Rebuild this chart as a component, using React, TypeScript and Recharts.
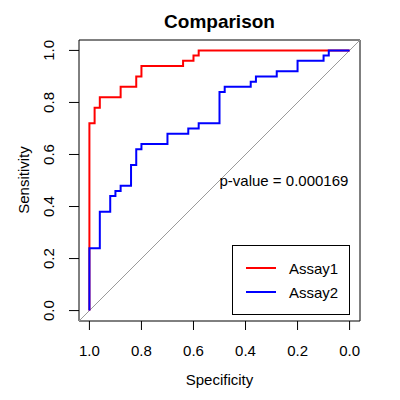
import {
  ComposedChart,
  Legend,
  Line,
  ReferenceArea,
  ReferenceDot,
  ReferenceLine,
  XAxis,
  YAxis,
} from 'recharts';

// ROC step points (specificity, sensitivity), ordered by decreasing specificity
const assay1Spec = [1, 1, 0.98, 0.96, 0.88, 0.82, 0.8, 0.64, 0.6, 0.58, 0];
const assay1Sens = [0, 0.72, 0.78, 0.82, 0.86, 0.9, 0.94, 0.96, 0.98, 1, 1];

const assay2Spec = [
  1, 1, 0.96, 0.92, 0.9, 0.88, 0.84, 0.82, 0.8, 0.7, 0.62, 0.58, 0.5, 0.48,
  0.38, 0.36, 0.28, 0.2, 0.1, 0.08, 0,
];
const assay2Sens = [
  0, 0.24, 0.38, 0.44, 0.46, 0.48, 0.56, 0.62, 0.64, 0.68, 0.7, 0.72, 0.84,
  0.86, 0.88, 0.9, 0.92, 0.96, 0.98, 1, 1,
];

const axisTicks = [0, 0.2, 0.4, 0.6, 0.8, 1];
const pValueLabel = 'p-value = 0.000169';

const font = '"Liberation Sans", Arial, Helvetica, sans-serif';

const toPoints = (spec: number[], sens: number[]) =>
  spec.map((s, i) => ({ spec: s, sens: sens[i] }));

const assay1 = toPoints(assay1Spec, assay1Sens);
const assay2 = toPoints(assay2Spec, assay2Sens);

const XTick = ({ x, payload }: any) => (
  <text x={x} y={356} textAnchor='middle' fontSize={15} fontFamily={font} fill='#000'>
    {Number(payload.value).toFixed(1)}
  </text>
);

const YTick = ({ y, payload }: any) => (
  <text
    x={54}
    y={y}
    transform={`rotate(-90 54 ${y})`}
    textAnchor='middle'
    fontSize={15}
    fontFamily={font}
    fill='#000'
  >
    {Number(payload.value).toFixed(1)}
  </text>
);

const LegendBox = ({ payload }: any) => (
  <div
    style={{
      width: 116,
      height: 58,
      border: '1px solid #000',
      background: '#fff',
      fontFamily: font,
      fontSize: 15,
      boxSizing: 'content-box',
      paddingTop: 10,
    }}
  >
    {(payload || []).map((item: any) => (
      <div
        key={item.value}
        style={{ display: 'flex', alignItems: 'center', height: 24 }}
      >
        <span
          style={{
            display: 'inline-block',
            width: 30,
            height: 2,
            marginLeft: 13,
            marginRight: 13,
            background: item.color,
          }}
        />
        <span>{item.value}</span>
      </div>
    ))}
  </div>
);

export default function App() {
  return (
    <div style={{ position: 'absolute', left: 0, top: 0, background: '#fff' }}>
      <ComposedChart
        width={400}
        height={400}
        margin={{ top: 40, right: 40, bottom: 0, left: 0 }}
      >
        <XAxis
          dataKey='spec'
          type='number'
          reversed
          domain={[-0.04, 1.04]}
          ticks={axisTicks}
          allowDataOverflow
          height={79}
          axisLine={false}
          tickSize={9}
          tickLine={{ stroke: '#000' }}
          tick={<XTick />}
        />
        <YAxis
          dataKey='sens'
          type='number'
          domain={[-0.04, 1.04]}
          ticks={axisTicks}
          allowDataOverflow
          width={79}
          axisLine={false}
          tickSize={10}
          tickLine={{ stroke: '#000' }}
          tick={<YTick />}
        />
        <ReferenceArea
          x1={-0.04}
          x2={1.04}
          y1={-0.04}
          y2={1.04}
          fill='none'
          stroke='#000'
          strokeWidth={1}
        />
        <ReferenceLine
          segment={[
            { x: 1.04, y: -0.04 },
            { x: -0.04, y: 1.04 },
          ]}
          stroke='#9a9a9a'
          strokeWidth={1}
        />
        <Line
          data={assay1}
          dataKey='sens'
          name='Assay1'
          type='stepAfter'
          stroke='#ff0000'
          strokeWidth={2}
          dot={false}
          isAnimationActive={false}
        />
        <Line
          data={assay2}
          dataKey='sens'
          name='Assay2'
          type='stepAfter'
          stroke='#0000ff'
          strokeWidth={2}
          dot={false}
          isAnimationActive={false}
        />
        <ReferenceDot
          x={0.5}
          y={0.5}
          r={0}
          fill='none'
          stroke='none'
          label={({ viewBox }: any) => (
            <text
              x={viewBox.x}
              y={viewBox.y + 5}
              textAnchor='start'
              fontSize={15}
              fontFamily={font}
              fill='#000'
            >
              {pValueLabel}
            </text>
          )}
        />
        <Legend
          layout='vertical'
          align='center'
          verticalAlign='middle'
          content={<LegendBox />}
          wrapperStyle={{ left: 232, top: 245, width: 118, height: 70 }}
        />
        <text
          x={219.5}
          y={28}
          textAnchor='middle'
          fontSize={19}
          fontWeight='bold'
          fontFamily={font}
          fill='#000'
        >
          Comparison
        </text>
        <text
          x={219.5}
          y={385}
          textAnchor='middle'
          fontSize={15}
          fontFamily={font}
          fill='#000'
        >
          Specificity
        </text>
        <text
          x={29}
          y={180}
          transform='rotate(-90 29 180)'
          textAnchor='middle'
          fontSize={15}
          fontFamily={font}
          fill='#000'
        >
          Sensitivity
        </text>
      </ComposedChart>
    </div>
  );
}
